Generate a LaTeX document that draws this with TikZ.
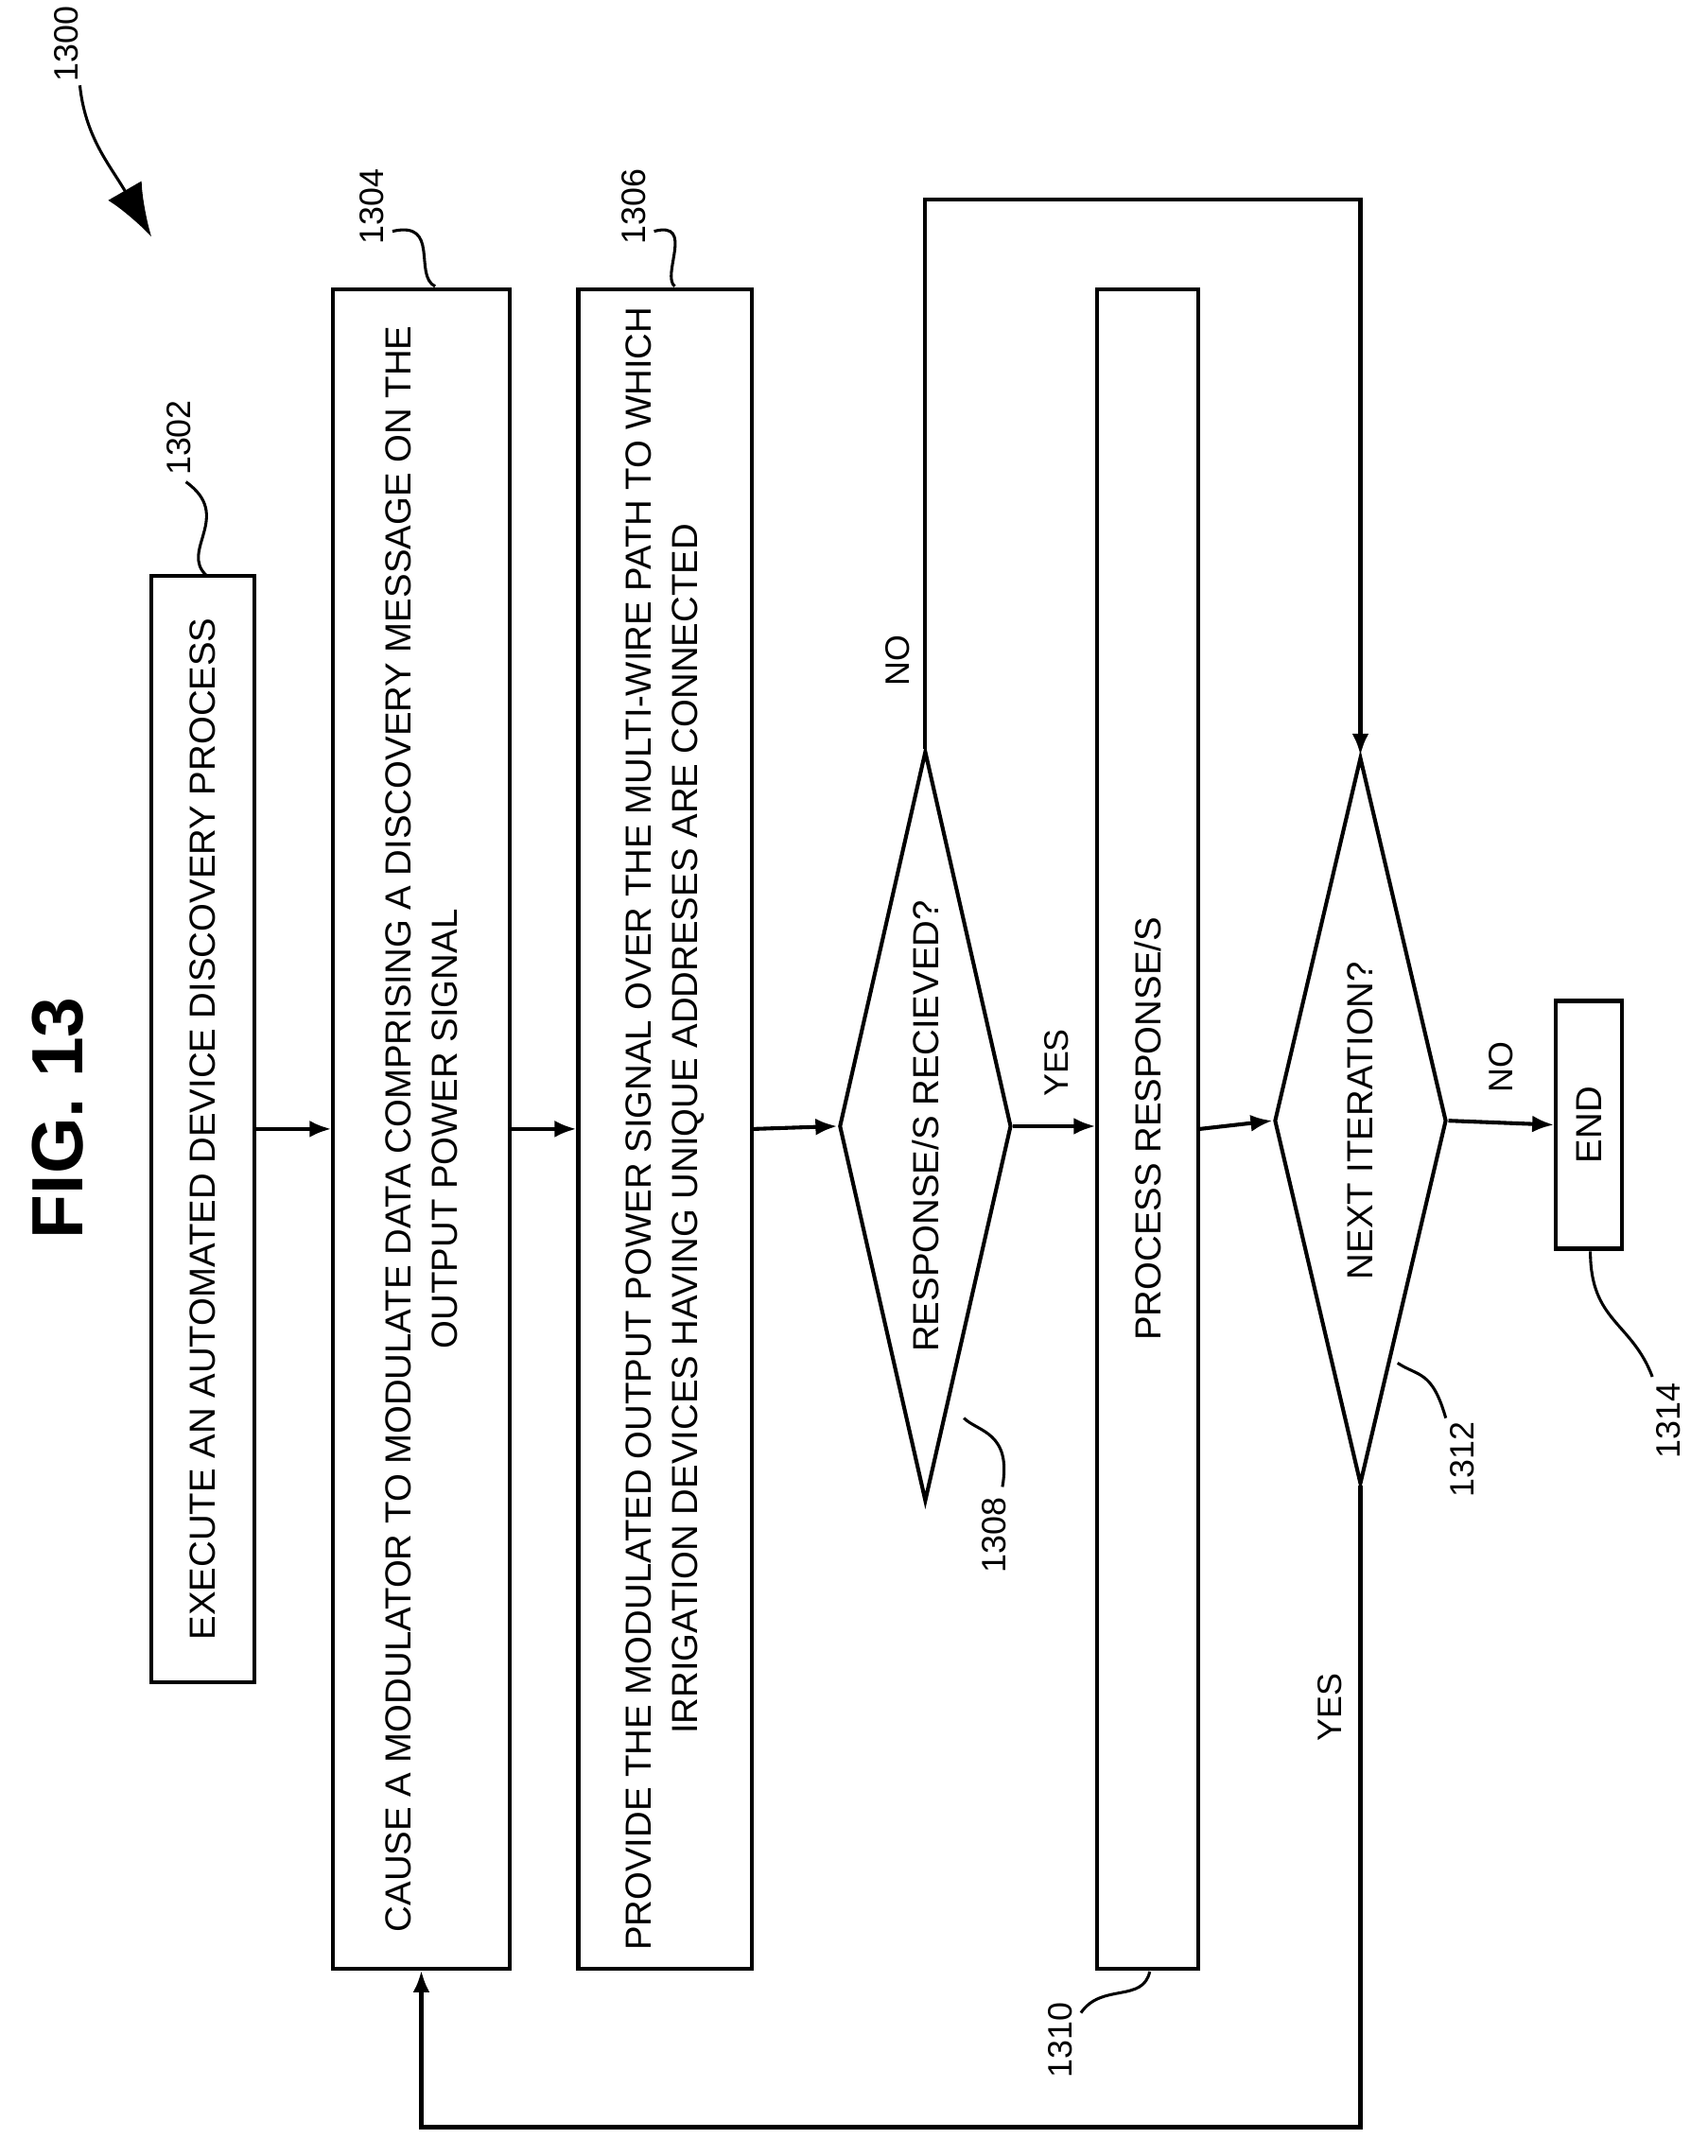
\documentclass[tikz,border=0pt]{standalone}
\usepackage{fontspec}
\setmainfont{Liberation Sans}
\usetikzlibrary{shapes.geometric,arrows.meta}
\begin{document}
\begin{tikzpicture}[x=0.02cm,y=-0.02cm,line width=1.6pt,
  box/.style={draw,rotate=90,align=center,inner sep=2pt,font=\fontsize{15}{19}\selectfont},
  dec/.style={draw,diamond,rotate=90,aspect=4.4,inner sep=0pt,font=\fontsize{15}{19}\selectfont},
  lbl/.style={rotate=90,font=\fontsize{14}{16}\selectfont},
  ref/.style={rotate=90,font=\fontsize{14}{16}\selectfont},
  flow/.style={-{Latex[length=9pt,width=7pt]}}]
\useasboundingbox (0,0) rectangle (1240,1566);
\node(title) at (42,812) [rotate=90,font=\fontsize{30}{34}\bfseries]{FIG. 13};
\node(b1302) at (147.5,820) [box, minimum width=16.08cm, minimum height=1.5cm]{EXECUTE AN AUTOMATED DEVICE DISCOVERY PROCESS};
\node(b1304) at (306,820) [box, minimum width=24.4cm, minimum height=2.56cm]{CAUSE A MODULATOR TO MODULATE DATA COMPRISING A DISCOVERY MESSAGE ON THE\\OUTPUT POWER SIGNAL};
\node(b1306) at (483,820) [box, minimum width=24.4cm, minimum height=2.52cm]{PROVIDE THE MODULATED OUTPUT POWER SIGNAL OVER THE MULTI-WIRE PATH TO WHICH\\IRRIGATION DEVICES HAVING UNIQUE ADDRESES ARE CONNECTED};
\node(d1308) at (672,818) [dec, minimum width=10.9cm, minimum height=2.5cm]{RESPONSE/S RECIEVED?};
\node(b1310) at (833.5,820) [box, minimum width=24.4cm, minimum height=1.46cm]{PROCESS RESPONSE/S};
\node(d1312) at (988,814) [dec, minimum width=10.56cm, minimum height=2.5cm]{NEXT ITERATION?};
\node(end) at (1154,817) [box, minimum width=3.6cm, minimum height=0.96cm]{END};
\coordinate(n1) at (672,145);
\coordinate(n2) at (988,145);
\coordinate(y1) at (988,1545);
\coordinate(y2) at (306,1545);

\draw [flow] (b1302.south) -- (b1304.north);
\draw [flow] (b1304.south) -- (b1306.north);
\draw [flow] (b1306.south) -- (d1308.north);
\draw [flow] (d1308.south) -- (b1310.north |- d1308.south);
\draw [flow] (b1310.south) -- (d1312.north);
\draw [flow] (d1312.south) -- (end.north);
\draw [flow] (d1308.east) -- (n1) -- (n2) -- (d1312.east);
\draw [flow] (d1312.west) -- (y1) -- (y2) -- (b1304.west);

\node(yes1) at (767,772) [lbl]{YES};
\node(no1) at (652,480) [lbl]{NO};
\node(no2) at (1090,775) [lbl]{NO};
\node(yes2) at (966,1240) [lbl]{YES};

% reference numerals
\node(r1300) at (1205,38) [ref] {};
\node(r1300) at (48,32) [ref]{1300};
\draw [-{Latex[length=22pt,width=16pt]},line width=1.2pt] (58,62) .. controls (62,100) and (80,120) .. (110,172);
\node(r1302) at (130,318) [ref]{1302};
\draw [line width=1.2pt] (135,350) .. controls (170,375) and (130,400) .. (150,418);
\node(r1304) at (270,150) [ref]{1304};
\draw [line width=1.2pt] (285,168) .. controls (320,160) and (300,200) .. (316,208);
\node(r1306) at (460,150) [ref]{1306};
\draw [line width=1.2pt] (475,168) .. controls (505,160) and (480,200) .. (490,208);
\node(r1308) at (722,1115) [ref]{1308};
\draw [line width=1.2pt] (728,1080) .. controls (735,1040) and (710,1040) .. (700,1030);
\node(r1310) at (770,1482) [ref]{1310};
\draw [line width=1.2pt] (785,1462) .. controls (800,1440) and (830,1455) .. (835,1432);
\node(r1312) at (1062,1060) [ref]{1312};
\draw [line width=1.2pt] (1050,1030) .. controls (1040,995) and (1030,1000) .. (1015,990);
\node(r1314) at (1212,1032) [ref]{1314};
\draw [line width=1.2pt] (1200,1000) .. controls (1185,960) and (1155,960) .. (1155,909);
\end{tikzpicture}
\end{document}
